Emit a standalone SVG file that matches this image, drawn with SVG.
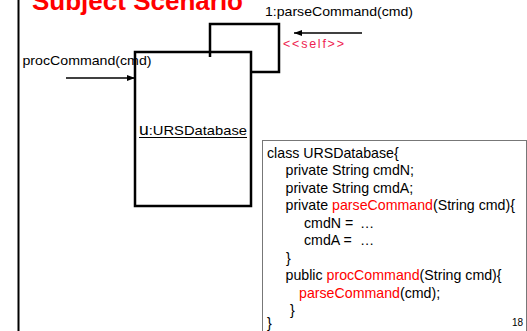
<svg xmlns="http://www.w3.org/2000/svg" width="527" height="331" viewBox="0 0 527 331">
  <style>
    .t { font-family: "Liberation Sans", Arial, sans-serif; fill: #000; }
    .red { fill: #ff0000; }
    .ln { fill: none; stroke: #000; stroke-width: 2.5; }
    .msg { fill: none; stroke: #000; stroke-width: 1.5; }
    .code { font-family: "Liberation Sans", Arial, sans-serif; font-size: 14.2px; fill: #000; }
  </style>
  <defs>
    <marker id="head" viewBox="0 0 8 6" refX="8" refY="3" markerWidth="8" markerHeight="6" markerUnits="userSpaceOnUse" orient="auto">
      <path d="M0,0 L8,3 L0,6 z" fill="#000"/>
    </marker>
  </defs>

  <rect width="527" height="331" fill="#fff"/>

  <!-- slide frame edge -->
  <line x1="18.5" y1="0" x2="18.5" y2="331" stroke="#000" stroke-width="2"/>

  <!-- heading, partly above the top edge -->
  <text id="title" class="t" x="32" y="9.5" font-size="26" font-weight="bold" style="fill:#ff0000" textLength="211">Subject Scenario</text>

  <!-- object u -->
  <g id="u">
    <rect x="135" y="52" width="116" height="154" fill="#fff" stroke="#000" stroke-width="2.5"/>
    <text class="t" x="139" y="135" font-size="13.5" textLength="108" lengthAdjust="spacingAndGlyphs"><tspan font-size="16">u</tspan>:URSDatabase</text>
    <line x1="139" y1="137.5" x2="247" y2="137.5" stroke="#000" stroke-width="1"/>
  </g>

  <!-- nested activation for the self call -->
  <g id="self-activation">
    <polyline class="ln" points="210,57 210,24 279,24 279,72 250,72"/>
  </g>

  <!-- messages -->
  <g id="connectors">
    <line class="msg" x1="66" y1="78" x2="135" y2="78" marker-end="url(#head)"/>
    <line class="msg" x1="362" y1="33" x2="294" y2="33" marker-end="url(#head)"/>
    <text class="t" x="22.5" y="65" font-size="13" textLength="129" lengthAdjust="spacingAndGlyphs">procCommand(cmd)</text>
    <text class="t" x="265" y="16" font-size="13" textLength="148" lengthAdjust="spacingAndGlyphs">1:parseCommand(cmd)</text>
    <text class="t" x="283" y="48" font-size="12.5" style="fill:#ee2250" textLength="61" lengthAdjust="spacing">&lt;&lt;self&gt;&gt;</text>
  </g>

  <!-- source listing note -->
  <g id="code-note">
    <rect x="262.5" y="140.5" width="264" height="200" fill="#fff" stroke="#777" stroke-width="1"/>
    <text class="code" x="267" y="157.5">class URSDatabase{</text>
    <text class="code" x="285.5" y="175">private String cmdN;</text>
    <text class="code" x="285.5" y="192.5">private String cmdA;</text>
    <text class="code" x="285.5" y="210">private <tspan class="red">parseCommand</tspan>(String cmd){</text>
    <text class="code" x="304" y="227.5">cmdN = <tspan x="360">…</tspan></text>
    <text class="code" x="304" y="245">cmdA = <tspan x="360">…</tspan></text>
    <text class="code" x="286" y="262.5">}</text>
    <text class="code" x="285.5" y="280">public <tspan class="red">procCommand</tspan>(String cmd){</text>
    <text class="code" x="299" y="297.5"><tspan class="red">parseCommand</tspan>(cmd);</text>
    <text class="code" x="290" y="315">}</text>
    <text class="code" x="267" y="328">}</text>
    <text class="t" x="512" y="325.5" font-size="10">18</text>
  </g>
</svg>
